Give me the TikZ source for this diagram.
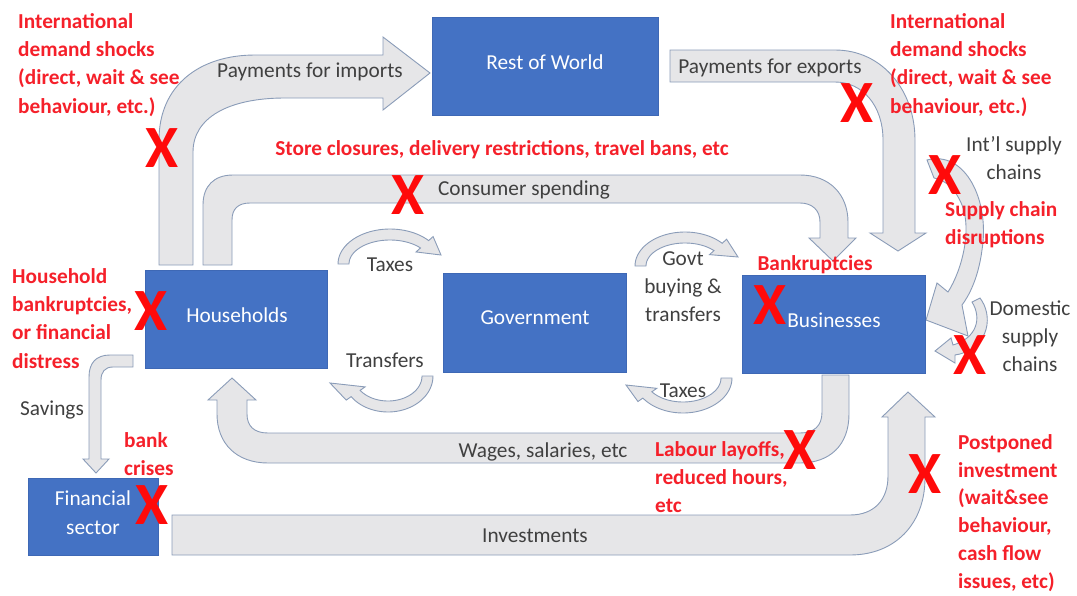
\documentclass[tikz,border=0pt]{standalone}
\usepackage{fontspec}
\setmainfont{Carlito}
\definecolor{boxblue}{HTML}{4472C4}
\definecolor{boxedge}{HTML}{3E68B5}
\definecolor{arrowgray}{HTML}{E6E6E8}
\definecolor{arrowedge}{HTML}{8A9CB8}
\definecolor{darktext}{HTML}{404040}
\definecolor{redtext}{HTML}{F5202A}
\definecolor{xred}{HTML}{FF0A0A}
\newcommand{\cvarrow}[9]{%
  \draw[barrow] plot[domain=#6:#7,samples=36] ({#1+#3*cos(\x)},{#2+#4*sin(\x)})
   -- ({#1+(#3+#8)*cos(#7)},{#2+(#4+#8)*sin(#7)})
   -- #9
   -- ({#1+(#3-#5-#8)*cos(#7)},{#2+(#4-#5-#8)*sin(#7)})
   -- plot[domain=#7:#6,samples=36] ({#1+(#3-#5)*cos(\x)},{#2+(#4-#5)*sin(\x)}) -- cycle;}
\newcommand{\redx}[3]{\node[xmark] (#1) at (#2,#3) {X};}
\begin{document}
\begin{tikzpicture}[x=1pt,y=-1pt,
  barrow/.style={fill=arrowgray, draw=arrowedge, line width=0.9pt, line join=miter},
  blockbox/.style={fill=boxblue, draw=boxedge, line width=0.6pt, inner sep=0pt},
  boxtxt/.style={text=white, font=\fontsize{21.3}{29}\selectfont, align=center, inner sep=0pt},
  lbl/.style={text=darktext, font=\fontsize{21.3}{28}\selectfont, inner sep=0pt, align=center},
  redlbl/.style={text=redtext, font=\bfseries\fontsize{21.3}{28.3}\selectfont, inner sep=0pt, align=left, anchor=north west},
  redc/.style={text=redtext, font=\bfseries\fontsize{21.3}{28}\selectfont, inner sep=0pt, align=center},
  xmark/.style={text=xred, font=\bfseries\fontsize{60}{60}\selectfont, inner sep=0pt}]
\useasboundingbox (0,0) rectangle (1077,595);

% ---------- block arrows ----------
% payments for imports
\draw[barrow] (159,265) -- (159,140) .. controls (159,85) and (200,55) .. (255,55) -- (383,55) -- (383,37) -- (430,73) -- (383,110) -- (383,98) -- (285,98) .. controls (228,98) and (193,118) .. (193,152) -- (193,265) -- cycle;
% consumer spending
\draw[barrow] (203,265) -- (203,205) .. controls (203,186) and (214,175) .. (233,175) -- (800,175) .. controls (830,175) and (848,195) .. (848,222) -- (848,238) -- (856,238) -- (833,261) -- (809,238) -- (820,238) -- (820,222) .. controls (820,210) and (812,203) .. (800,203) -- (250,203) .. controls (238,203) and (232,209) .. (232,220) -- (232,265) -- cycle;
% payments for exports
\draw[barrow] (670,50) -- (835,50) .. controls (882,50) and (915,90) .. (915,140) -- (915,233) -- (926,233) -- (898,251) -- (870,233) -- (883,233) -- (883,140) .. controls (883,105) and (862,82) .. (835,82) -- (670,82) -- cycle;
% wages
\draw[barrow] (822,375) -- (822,412) .. controls (822,426) and (814,433) .. (800,433) -- (268,433) .. controls (254,433) and (247,426) .. (247,414) -- (247,400) -- (256,400) -- (232,378) -- (208,400) -- (217,400) -- (217,414) .. controls (217,444) and (237,463) .. (268,463) -- (800,463) .. controls (830,463) and (849,445) .. (849,414) -- (849,375) -- cycle;
% investments
\draw[barrow] (172,515) -- (850,515) .. controls (874,515) and (888,500) .. (888,476) -- (888,417) -- (882,417) -- (908,392) -- (935,417) -- (925,417) -- (925,478) .. controls (925,524) and (895,555) .. (850,555) -- (172,555) -- cycle;
% savings
\draw[barrow] (133,355) -- (110,355) .. controls (96,355) and (89,363) .. (89,377) -- (89,459) -- (83,459) -- (96,473) -- (109,459) -- (101,459) -- (101,380) .. controls (101,372) and (105,367) .. (113,367) -- (133,367) -- cycle;
% small curved arrows
\cvarrow{390}{264}{52}{35}{11}{180}{318}{6}{(441,255)}
\cvarrow{388}{376}{45}{36}{11}{0}{145}{6}{(330,383)}
\cvarrow{685}{266}{50}{34}{11}{180}{318}{6}{(738,257)}
\cvarrow{683}{378}{49}{35}{11}{0}{145}{6}{(626,385)}
% international supply chains
\draw[barrow] (927,160) .. controls (965,150) and (990,200) .. (982,250) .. controls (978,280) and (968,297) .. (962,305) -- (968,336) -- (926,320) -- (937,283) -- (948,292) .. controls (962,270) and (972,230) .. (962,205) .. controls (955,188) and (945,180) .. (934,178) -- cycle;
% domestic supply chains
\draw[barrow] (980,298) .. controls (993,315) and (990,345) .. (960,354) -- (955,355) -- (955,363) -- (935,351) -- (951,338) -- (953,345) .. controls (977,338) and (982,318) .. (972,302) -- cycle;

% ---------- boxes ----------
\node[blockbox, minimum width=226pt, minimum height=98pt] (row) at (545,66) {};
\node[boxtxt] (rowt) at (545,62) {Rest of World};
\node[blockbox, minimum width=182pt, minimum height=98pt] (hh) at (236,319) {};
\node[boxtxt] (hht) at (237,315) {Households};
\node[blockbox, minimum width=183pt, minimum height=99pt] (gov) at (534.5,322.5) {};
\node[boxtxt] (govt) at (535,318) {Government};
\node[blockbox, minimum width=183pt, minimum height=98pt] (bus) at (833.5,324) {};
\node[boxtxt] (bust) at (834,320) {Businesses};
\node[blockbox, minimum width=130pt, minimum height=77pt] (fin) at (93,516.5) {};
\node[boxtxt] (fint) at (93,512.5) {Financial\\sector};

% ---------- black labels ----------
\node[lbl] (l1) at (310,72) {Payments for imports};
\node[lbl] (l2) at (770,68) {Payments for exports};
\node[lbl] (l3) at (524,190) {Consumer spending};
\node[lbl] (l4) at (390,265) {Taxes};
\node[lbl] (l5) at (385,360) {Transfers};
\node[lbl] (l6) at (683,287) {Govt\\buying \&\\transfers};
\node[lbl] (l7) at (683,391) {Taxes};
\node[lbl] (l8) at (1014,158.5) {Int’l supply\\chains};
\node[lbl] (l9) at (1030,336) {Domestic\\supply\\chains};
\node[lbl] (l10) at (52,410) {Savings};
\node[lbl] (l11) at (543,452) {Wages, salaries, etc};
\node[lbl] (l12) at (535,536) {Investments};

% ---------- red labels ----------
\node[redlbl] (r1) at (18,13) {International\\demand shocks\\(direct, wait \& see\\behaviour, etc.)};
\node[redlbl] (r2) at (890,13) {International\\demand shocks\\(direct, wait \& see\\behaviour, etc.)};
\node[redc] (r3) at (502,150) {Store closures, delivery restrictions, travel bans, etc};
\node[redlbl] (r4) at (945,201) {Supply chain\\disruptions};
\node[redc] (r5) at (815,265) {Bankruptcies};
\node[redlbl] (r6) at (12,268) {Household\\bankruptcies,\\or financial\\distress};
\node[redlbl] (r7) at (124,432) {bank\\crises};
\node[redlbl] (r8) at (655,441) {Labour layoffs,\\reduced hours,\\etc};
\node[redlbl, font=\bfseries\fontsize{21.3}{27.9}\selectfont] (r9) at (958,434) {Postponed\\investment\\(wait\&see\\behaviour,\\cash flow\\issues, etc)};

% ---------- red crosses ----------
\redx{x1}{162}{148}
\redx{x2}{408}{195}
\redx{x3}{857}{103}
\redx{x4}{945}{175}
\redx{x5}{151}{311}
\redx{x6}{152}{505}
\redx{x7}{770}{305}
\redx{x8}{970}{355}
\redx{x9}{800}{450}
\redx{x10}{925}{474}
\end{tikzpicture}
\end{document}
